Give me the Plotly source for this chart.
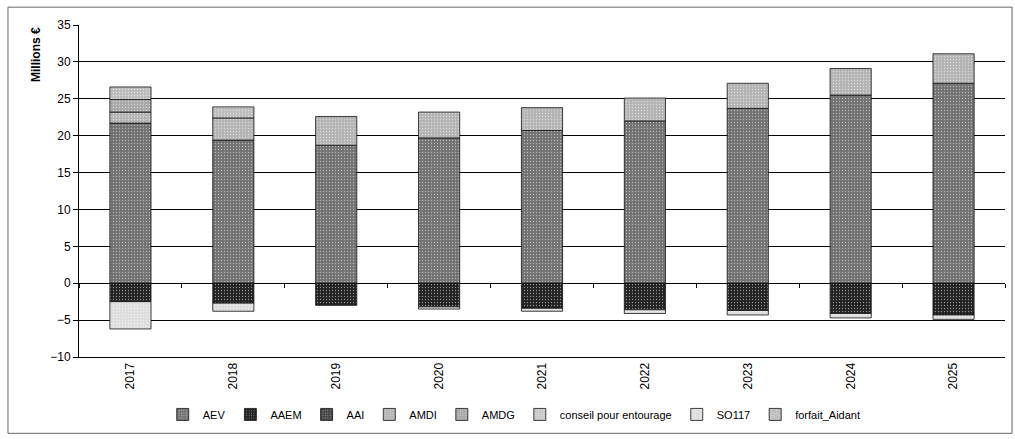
import plotly.graph_objects as go

years = ["2017", "2018", "2019", "2020", "2021", "2022", "2023", "2024", "2025"]

AEV = [21.7, 19.4, 18.7, 19.7, 20.7, 22.0, 23.7, 25.5, 27.1]
AAEM = [-2.5, -2.7, -3.0, -3.2, -3.4, -3.6, -3.7, -4.1, -4.3]
AAI = [None] * 9
AMDI = [1.5, 3.0, 3.9, 3.5, 3.1, 3.1, 3.4, 3.6, 4.0]
AMDG = [1.7, None, None, None, None, None, None, None, None]
conseil = [None] * 9
SO117 = [-3.7, -1.1, None, -0.3, -0.4, -0.5, -0.6, -0.6, -0.6]
forfait = [1.7, 1.5, None, None, None, None, None, None, None]

series = [
    ("AEV", AEV, "#727272"),
    ("AAEM", AAEM, "#222222"),
    ("AAI", AAI, "#454545"),
    ("AMDI", AMDI, "#b4b4b4"),
    ("AMDG", AMDG, "#a8a8a8"),
    ("conseil pour entourage", conseil, "#c8c8c8"),
    ("SO117", SO117, "#dedede"),
    ("forfait_Aidant", forfait, "#bdbdbd"),
]

fig = go.Figure()
for name, vals, col in series:
    fig.add_trace(go.Bar(
        x=years, y=vals, name=name,
        marker=dict(color=col, line=dict(color="#111111", width=0.8),
                    pattern=dict(shape=".", size=3, solidity=0.15, fgcolor="#ffffff")),
    ))

# empty trace carrying the category axis drawn through zero (tick marks only)
fig.add_trace(go.Bar(x=years, y=[None] * 9, xaxis="x2", showlegend=False, hoverinfo="skip"))

font = dict(family="Liberation Sans, Arial, sans-serif", size=12, color="#000000")
lfont = dict(family="Liberation Sans, Arial, sans-serif", size=11, color="#000000")

fig.update_layout(
    barmode="relative",
    bargap=0.6,
    width=1015, height=439,
    margin=dict(l=79, r=10, t=25, b=79),
    paper_bgcolor="#ffffff", plot_bgcolor="#ffffff",
    font=font,
    showlegend=True,
    legend=dict(orientation="h", x=0.47, xanchor="center", y=-0.173, yanchor="middle",
                font=lfont, itemwidth=30, traceorder="normal"),
    xaxis=dict(tickangle=-90, showgrid=False, showline=True, linecolor="#000", linewidth=1,
               ticks="", tickfont=font, zeroline=False),
    xaxis2=dict(matches="x", overlaying="x", anchor="free", position=10 / 45,
                showticklabels=False, ticks="outside", tickson="boundaries", ticklen=4,
                tickcolor="#000", showgrid=False, showline=False, zeroline=False),
    yaxis=dict(range=[-10, 35], dtick=5, showgrid=True, gridcolor="#000000", gridwidth=1,
               zeroline=True, zerolinecolor="#000", zerolinewidth=1,
               showline=True, linecolor="#000", linewidth=1, ticks="outside", ticklen=5,
               tickcolor="#000", tickfont=font),
    annotations=[dict(text="<b>Millions €</b>", xref="paper", yref="paper",
                      x=-0.047, y=1.0, xanchor="center", yanchor="top", textangle=-90,
                      showarrow=False, font=font)],
    shapes=[dict(type="rect", xref="paper", yref="paper", x0=-0.0767, x1=1.0076,
                 y0=-0.2299, y1=1.0537, line=dict(color="#666666", width=1),
                 fillcolor="rgba(0,0,0,0)", layer="below")],
)

fig.write_html("out.html", config={"displayModeBar": False})

with open("out.html", "r", encoding="utf-8") as f:
    html = f.read()
html = html.replace("<head>", "<head><style>html,body{margin:0;padding:0;overflow:hidden;}</style>", 1)
with open("out.html", "w", encoding="utf-8") as f:
    f.write(html)
